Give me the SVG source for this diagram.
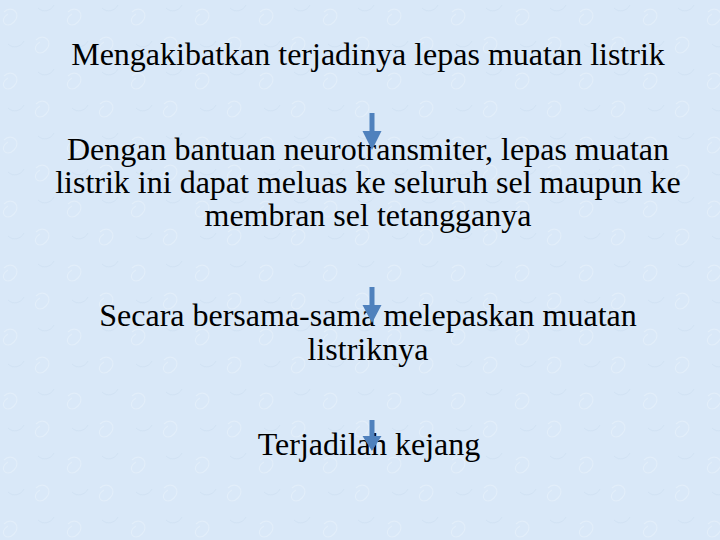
<svg xmlns="http://www.w3.org/2000/svg" width="720" height="540" viewBox="0 0 720 540">
<defs>
<style>
.t{font-family:"Liberation Serif","Times New Roman",serif;font-size:32px;fill:#000;text-anchor:middle}
.arr{fill:#4f81bd}
</style>
<pattern id="tex" width="64" height="64" patternUnits="userSpaceOnUse">
<rect width="64" height="64" fill="#d9e8f8"/>
<path d="M4 12c8-8 18 2 10 10s-16-2-6-8M36 40c8-8 18 2 10 10s-16-2-6-8" fill="none" stroke="#e2eefa" stroke-width="1.2"/>
<path d="M38 8c5 5 13 3 16-3M8 44c5 5 13 3 16-3" fill="none" stroke="#d1e2f4" stroke-width="1"/>
</pattern>
</defs>
<rect width="720" height="540" fill="url(#tex)"/>
<g id="node1"><text class="t" x="368" y="65">Mengakibatkan terjadinya lepas muatan listrik</text></g>
<g id="node2"><text class="t" x="368" y="160">Dengan bantuan neurotransmiter, lepas muatan</text><text class="t" x="368" y="193">listrik ini dapat meluas ke seluruh sel maupun ke</text><text class="t" x="368" y="226">membran sel tetangganya</text></g>
<g id="node3"><text class="t" x="368" y="326">Secara bersama-sama melepaskan muatan</text><text class="t" x="368" y="360">listriknya</text></g>
<g id="node4"><text class="t" x="369" y="455">Terjadilah kejang</text></g>
<g id="connectors">
<path class="arr" d="M369.5 113h5v18h7l-9.5 19l-9.5-19h7z"/>
<path class="arr" d="M369.5 287h5v18h7l-9.5 18l-9.5-18h7z"/>
<path class="arr" d="M369.5 420h5v16h7l-9.5 15l-9.5-15h7z"/>
</g>
</svg>
